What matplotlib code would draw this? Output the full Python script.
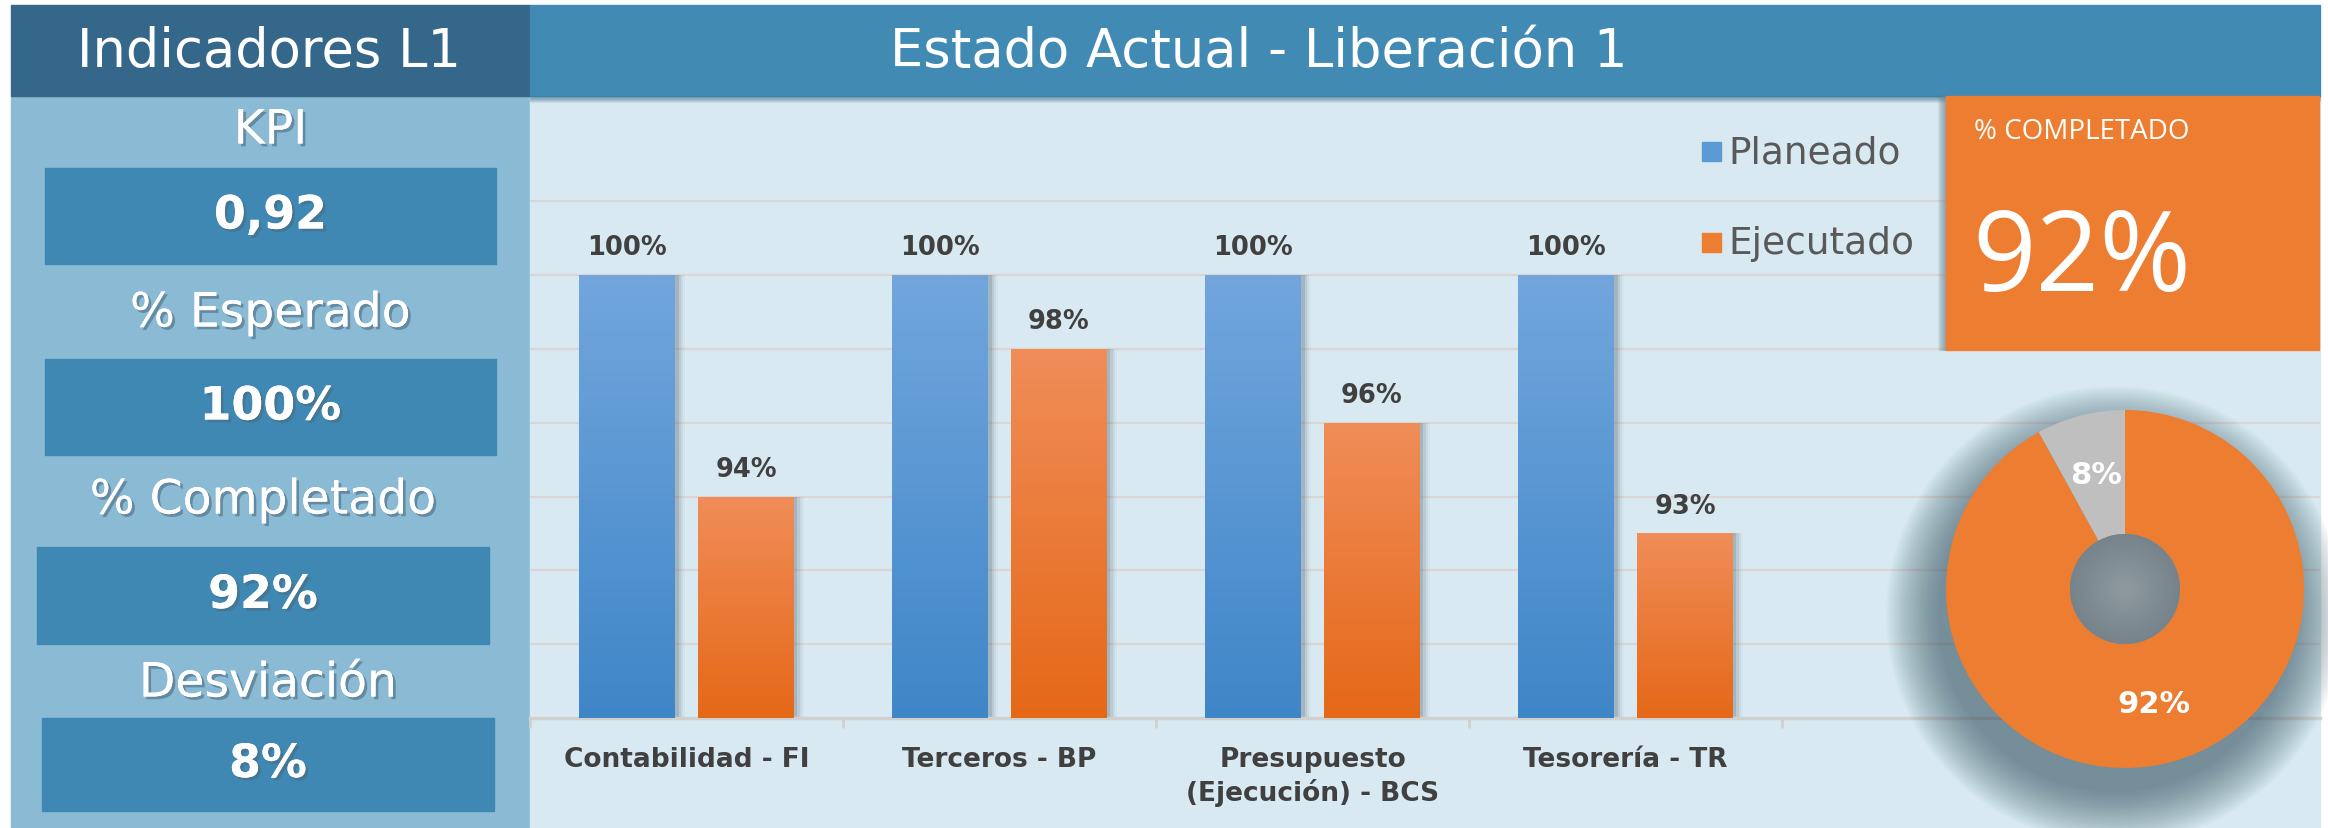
import matplotlib
matplotlib.use("Agg")
import matplotlib.pyplot as plt
import matplotlib.patheffects as pe
import numpy as np
from matplotlib.patches import Rectangle, Circle
from matplotlib.colors import LinearSegmentedColormap

# ---- data ----
categorias = ["Contabilidad - FI", "Terceros - BP",
              "Presupuesto\n(Ejecución) - BCS", "Tesorería - TR"]
planeado = [100, 100, 100, 100]
ejecutado = [94, 98, 96, 93]

kpi_labels = ["KPI", "% Esperado", "% Completado", "Desviación"]
kpi_values = ["0,92", "100%", "92%", "8%"]

completado = [92, 8]          # donut: completado / pendiente
completado_txt = "92%"

# ---- colours ----
HEAD_L = "#35678b"
HEAD_R = "#418ab3"
PANEL = "#8abad4"
BOX = "#3f88b4"
CHART_BG = "#d8e9f1"
ORANGE = "#ed7d31"
GREY_SLICE = "#bfbfbf"
TXT_DARK = "#404040"

W, H = 2328, 829
fig = plt.figure(figsize=(W / 100, H / 100), dpi=100)
fig.patch.set_facecolor("white")


def pixel_axes(z):
    a = fig.add_axes([0, 0, 1, 1], zorder=z)
    a.set_xlim(0, W)
    a.set_ylim(H, 0)
    a.set_facecolor("none")
    a.axis("off")
    return a


bg = pixel_axes(0)      # panels, headers, legend
top = pixel_axes(2)     # KPI card and donut shadow, above the grid

shadow_txt = [pe.withSimplePatchShadow(offset=(2, -2), shadow_rgbFace="#4a6a80", alpha=0.6),
              pe.Normal()]

# left panel
bg.add_patch(Rectangle((11, 97), 519, H - 97, color=PANEL, zorder=1))
bg.add_patch(Rectangle((11, 6), 519, 91, color=HEAD_L, zorder=2))
bg.text(269, 52, "Indicadores L1", color="white", fontsize=38,
        ha="center", va="center", zorder=3)

label_y = [132, 315, 502, 685]
box_y = [(169, 265), (360, 456), (548, 645), (719, 812)]
box_x = [(45, 496), (45, 496), (37, 489), (42, 494)]
for lab, val, ly, (y0, y1), (x0, x1) in zip(kpi_labels, kpi_values, label_y, box_y, box_x):
    bg.text((x0 + x1) / 2, ly, lab, color="white", fontsize=34, ha="center",
            va="center", zorder=3, path_effects=shadow_txt)
    bg.add_patch(Rectangle((x0, y0), x1 - x0, y1 - y0, color=BOX, zorder=2))
    bg.text((x0 + x1) / 2, (y0 + y1) / 2, val, color="white", fontsize=33,
            fontweight="bold", ha="center", va="center", zorder=3,
            path_effects=shadow_txt)

# main chart area
bg.add_patch(Rectangle((530, 97), 2320 - 530, H - 97, color=CHART_BG, zorder=1))
bg.add_patch(Rectangle((530, 6), 2320 - 530, 91, color=HEAD_R, zorder=2))
for k in range(6):
    bg.add_patch(Rectangle((530, 97 + k), 2320 - 530, 1, color="#3d6f8f",
                           alpha=0.25 - k * 0.04, zorder=2))
bg.text(1259, 52, "Estado Actual - Liberación 1", color="white", fontsize=38,
        ha="center", va="center", zorder=3)

# legend
for y, c, t in [(153, "#5b9bd5", "Planeado"), (244, ORANGE, "Ejecutado")]:
    bg.add_patch(Rectangle((1702, y - 10), 19, 19, color=c, zorder=3))
    bg.text(1728, y, t, color="#595959", fontsize=27, ha="left", va="center", zorder=3)

# orange KPI card
for k in range(8):
    top.add_patch(Rectangle((1946 - k - 1, 97), 1, 254, color="#6f8590",
                            alpha=0.3 - k * 0.035, zorder=3))
top.add_patch(Rectangle((1946, 97), 2319 - 1946, 254, color=ORANGE, zorder=4))
top.text(1974, 132, "% COMPLETADO", color="white", fontsize=20,
         family="Open Sans", ha="left", va="center", zorder=5)
top.text(1972, 262, completado_txt, color="white", fontsize=80,
         family="Open Sans", ha="left", va="center", zorder=5)

# soft shadow under the donut
cx, cy, R = 2125, 590, 179
for k in range(30):
    top.add_patch(Circle((cx - 10, cy + 26), R + 50 - k * 1.8, color="#3c5866",
                         alpha=0.026, lw=0, zorder=2))

# ---- bar chart ----
px_per_pct = (719 - 276) / 12.0
y_top = 88 + (719 - 163) / px_per_pct
ax = fig.add_axes([530 / W, (H - 719) / H, (2320 - 530) / W, (719 - 163) / H], zorder=1)
ax.set_facecolor("none")
n_cat_span = (2320 - 530) / 313.0
for s in ["top", "right", "left"]:
    ax.spines[s].set_visible(False)
ax.spines["bottom"].set_color("#d0d0d0")
ax.spines["bottom"].set_linewidth(2.5)
ax.set_yticks(np.arange(90, 103, 2))
ax.tick_params(axis="y", length=0, labelleft=False)
ax.yaxis.grid(True, color="#dcd5d5", linewidth=1.6)
ax.set_axisbelow(True)

x = np.arange(len(categorias))
bw = 0.305
off = 0.19
grad = np.linspace(0, 1, 256).reshape(-1, 1)
cmap_b = LinearSegmentedColormap.from_list("b", ["#3f86c8", "#72a6dd"])
cmap_o = LinearSegmentedColormap.from_list("o", ["#e56817", "#f08d59"])


def gradient_bars(xpos, vals, cmap, label):
    # shadow to the right
    for k, a in enumerate([0.22, 0.14, 0.08, 0.04]):
        ax.bar(xpos + 0.012 + k * 0.007, np.array(vals) - 88, bw, bottom=88,
               color="#5a6f7a", alpha=a, lw=0, zorder=2)
    bars = ax.bar(xpos, np.array(vals) - 88, bw, bottom=88, color=cmap(0.5),
                  lw=0, zorder=3, label=label)
    for b in bars:
        im = ax.imshow(grad, extent=[b.get_x(), b.get_x() + b.get_width(),
                                     88, b.get_y() + b.get_height()],
                       origin="lower", cmap=cmap, aspect="auto", zorder=4)
        im.set_clip_path(b)
    for b, v in zip(bars, vals):
        ax.annotate(f"{v}%", (b.get_x() + b.get_width() / 2, v),
                    xytext=(0, 20), textcoords="offset points", ha="center",
                    va="center", fontsize=18.5, fontweight="bold", color=TXT_DARK,
                    zorder=6)
    return bars


gradient_bars(x - off, planeado, cmap_b, "Planeado")
gradient_bars(x + off, ejecutado, cmap_o, "Ejecutado")
ax.set_xlim(-0.5, -0.5 + n_cat_span)
ax.set_ylim(88, y_top)

ax.set_xticks(x)
ax.set_xticklabels(categorias, fontsize=19, fontweight="bold", color=TXT_DARK,
                   linespacing=1.3, va="top")
ax.tick_params(axis="x", length=0, pad=20)
ax.set_xticks(np.arange(-0.5, len(categorias) + 1, 1), minor=True)
ax.tick_params(axis="x", which="minor", length=7, width=2, color="#d0d0d0")

# ---- donut ----
pax = fig.add_axes([(cx - R) / W, (H - cy - R) / H, 2 * R / W, 2 * R / H], zorder=3)
wedges, _, autotexts = pax.pie(
    completado, colors=[ORANGE, GREY_SLICE], startangle=90, counterclock=False,
    radius=1.0, wedgeprops=dict(width=1 - 55 / R, linewidth=0),
    autopct=lambda p: f"{p:.0f}%", pctdistance=0.66,
    textprops=dict(color="white", fontsize=22, fontweight="bold"))
hole = Circle((0, 0), 55 / R, transform=pax.transData, color="#848f96", lw=0, zorder=3)
pax.add_patch(hole)
yy, xx = np.mgrid[-1:1:200j, -1:1:200j]
rad = np.sqrt(xx ** 2 + yy ** 2)
cmap_h = LinearSegmentedColormap.from_list("h", ["#8f9aa0", "#76838b"])
im = pax.imshow(rad, extent=[-55 / R, 55 / R, -55 / R, 55 / R], cmap=cmap_h,
                vmin=0, vmax=1, zorder=4)
im.set_clip_path(hole)
pax.set_xlim(-1, 1)
pax.set_ylim(-1, 1)
pax.axis("off")

fig.savefig("out.png", dpi=100, facecolor=fig.get_facecolor())
